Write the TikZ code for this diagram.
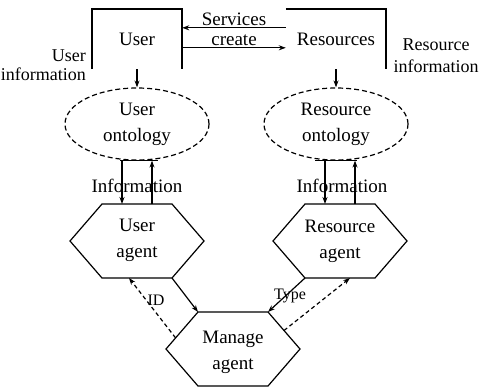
\documentclass[tikz,border=0pt]{standalone}
\usepackage{fontspec}
\setmainfont{Liberation Serif}
\usetikzlibrary{shapes.geometric, arrows.meta, calc}
\tikzset{
    hexa/.pic={
        \draw[line width=1.2pt] (-67,0)--(-35,-37)--(35,-37)--(67,0)--(35,37)--(-35,37)--cycle;
        \coordinate (-w) at (-67,0);
        \coordinate (-e) at (67,0);
        \coordinate (-n) at (0,-37);
        \coordinate (-s) at (0,37);
        \coordinate (-nw) at (-35,-37);
        \coordinate (-ne) at (35,-37);
        \coordinate (-sw) at (-35,37);
        \coordinate (-se) at (35,37);
    },
    lbl/.style={font=\fontsize{19}{26}\selectfont, align=center, inner sep=2pt},
    box/.style={lbl, minimum width=90pt, minimum height=60pt},
    onto/.style={lbl, ellipse, draw, dashed, dash pattern=on 5pt off 3pt, line width=1.2pt,
        minimum width=144pt, minimum height=72pt, inner sep=0pt},
    edge/.style={line width=1.5pt},
    arr/.style={line width=1.2pt, -{Stealth[length=7pt,width=5pt]}},
    back/.style={arr, dash pattern=on 4pt off 3pt},
}

\begin{document}
\begin{tikzpicture}[x=1pt,y=-1pt]
    \useasboundingbox (0,0) rectangle (494,388);
    % top boxes
    \node[box] (user) at (137,39) {User};
    \node[box,minimum width=100pt] (res) at (336,39) {Resources};
    \draw[edge] (user.south west) |- (user.north east) -- (user.south east);
    \draw[edge] (res.north west) -| (res.south east);
    \draw[arr] ([yshift=-19pt]res.north west) -- ([yshift=-19pt]user.north east) node[midway,above,lbl]{Services};
    \draw[arr] ([yshift=-39pt]user.north east) -- ([yshift=-39pt]res.north west) node[midway,above,lbl]{create};
    \node[lbl,anchor=east,align=right,font=\fontsize{18}{19}\selectfont] (uinfo) at (88,65) {User\\information};
    \node[lbl,font=\fontsize{18}{22}\selectfont] (rinfo) at (436,56) {Resource\\information};
    % ontologies
    \node[onto] (uo) at (137,124) {User\\ontology};
    \node[onto] (ro) at (336,124) {Resource\\ontology};
    \draw[arr] (user.south) -- (uo.north);
    \draw[arr] (res.south) -- (ro.north);
    % agents
    \pic (ua) at (137,241) {hexa};
    \pic (ra) at (340,241) {hexa};
    \pic (ma) at (233,349) {hexa};
    \node[lbl] (uat) at (137,240) {User\\agent};
    \node[lbl] (rat) at (340,241) {Resource\\agent};
    \node[lbl] (mat) at (233,352) {Manage\\agent};
    % ontology <-> agent
    \draw[edge] ([xshift=-17pt]uo.south) -- ([xshift=21pt]uo.south);
    \draw[arr] ([xshift=-15pt]uo.south) -- ([xshift=-15pt]ua-n);
    \draw[arr] ([xshift=15pt]ua-n) -- ([xshift=15pt]uo.south);
    \draw[edge] ([xshift=-21pt]ro.south) -- ([xshift=21pt]ro.south);
    \draw[arr] ([xshift=-11pt]ro.south) -- ([xshift=-15pt]ra-n);
    \draw[arr] ([xshift=15pt]ra-n) -- ([xshift=19pt]ro.south);
    \node[lbl] (uinf) at (137,186) {Information};
    \node[lbl] (rinf) at (342,186) {Information};
    % agent <-> manage
    \draw[arr] (ua-se) -- (ma-nw);
    \draw[back] ($(ma-w)!0.3!(ma-nw)$) -- ([xshift=-8pt]ua-s);
    \draw[arr] (ra-sw) -- (ma-ne);
    \draw[back] ($(ma-e)!0.5!(ma-ne)$) -- ([xshift=10pt]ra-s);
    \node[lbl,font=\fontsize{16}{20}\selectfont] (id) at (156,300) {ID};
    \node[lbl,font=\fontsize{16}{20}\selectfont] (type) at (290,296) {Type};
\end{tikzpicture}
\end{document}
